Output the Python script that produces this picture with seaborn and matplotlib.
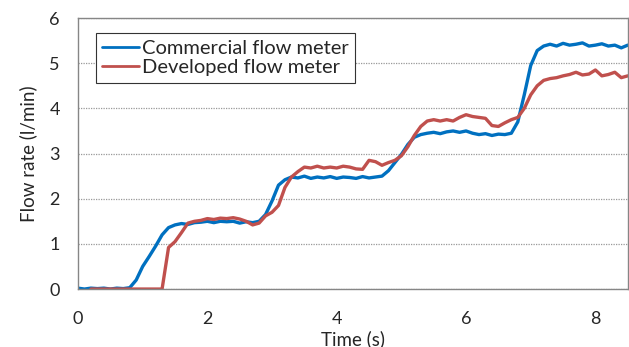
import numpy as np
import pandas as pd
import matplotlib
matplotlib.use("Agg")
import matplotlib.pyplot as plt
import seaborn as sns

time_s = np.round(np.arange(0, 86) * 0.1, 2)

commercial = [
    0.02, 0.00, 0.02, 0.01, 0.02, 0.00, 0.02, 0.01, 0.03, 0.20,
    0.50, 0.72, 0.95, 1.20, 1.36, 1.42, 1.45, 1.43, 1.47, 1.48,
    1.50, 1.47, 1.50, 1.49, 1.50, 1.46, 1.49, 1.47, 1.50, 1.65,
    1.95, 2.30, 2.42, 2.48, 2.46, 2.50, 2.45, 2.48, 2.46, 2.49,
    2.45, 2.48, 2.47, 2.45, 2.49, 2.46, 2.48, 2.50, 2.62, 2.80,
    2.98, 3.20, 3.36, 3.42, 3.45, 3.47, 3.44, 3.48, 3.50, 3.47,
    3.50, 3.45, 3.42, 3.44, 3.40, 3.43, 3.42, 3.45, 3.70, 4.30,
    4.95, 5.28, 5.38, 5.42, 5.38, 5.44, 5.40, 5.42, 5.45, 5.38,
    5.40, 5.43, 5.38, 5.40, 5.34, 5.40,
]

developed = [
    np.nan, np.nan, 0.00, 0.00, 0.00, 0.00, 0.00, 0.00, 0.00, 0.00,
    0.00, 0.00, 0.00, 0.00, 0.92, 1.05, 1.25, 1.46, 1.50, 1.52,
    1.56, 1.54, 1.57, 1.56, 1.58, 1.55, 1.50, 1.42, 1.46, 1.62,
    1.70, 1.85, 2.25, 2.48, 2.60, 2.70, 2.68, 2.72, 2.68, 2.70,
    2.68, 2.72, 2.70, 2.66, 2.65, 2.85, 2.82, 2.74, 2.80, 2.85,
    2.95, 3.15, 3.40, 3.60, 3.72, 3.75, 3.72, 3.75, 3.72, 3.80,
    3.86, 3.82, 3.80, 3.78, 3.62, 3.60, 3.68, 3.75, 3.80, 4.00,
    4.30, 4.50, 4.62, 4.66, 4.68, 4.72, 4.75, 4.80, 4.74, 4.76,
    4.85, 4.72, 4.75, 4.80, 4.68, 4.72,
]

series_names = ["Commercial flow meter", "Developed flow meter"]
colors = ["#0070C0", "#C0504D"]
x_ticks = [0, 2, 4, 6, 8]
y_ticks = [0, 1, 2, 3, 4, 5, 6]

df = pd.DataFrame({
    "Time (s)": np.concatenate([time_s, time_s]),
    "Flow": np.concatenate([commercial, developed]),
    "Series": [series_names[0]] * len(time_s) + [series_names[1]] * len(time_s),
})

sns.set_style("white")
plt.rcParams["font.family"] = ["Lato", "DejaVu Sans"]

fig = plt.figure(figsize=(6.29, 3.47), dpi=100)
ax = fig.add_axes([0.124, 0.167, 0.874, 0.781])

for name, col in zip(series_names, colors):
    sub = df[df["Series"] == name]
    sns.lineplot(data=sub, x="Time (s)", y="Flow", ax=ax, color=col,
                 linewidth=2.4, label=name, estimator=None)

ax.set_xlim(0, 8.5)
ax.set_ylim(0, 6)
ax.set_xticks(x_ticks)
ax.set_yticks(y_ticks)
ax.yaxis.grid(True, linestyle=(0, (1, 1)), color="#999999", linewidth=0.9)
ax.xaxis.grid(False)
ax.set_axisbelow(True)
for s in ax.spines.values():
    s.set_color("#868686")
    s.set_linewidth(1.0)

ax.tick_params(axis="x", direction="in", length=6, width=1, color="#333333",
               pad=16, labelsize=13)
ax.tick_params(axis="y", length=0, pad=13, labelsize=13)
ax.set_xlabel("Time (s)", fontsize=13.5, labelpad=2)
ax.set_ylabel("Flow rate (l/min)", fontsize=13.5, labelpad=9)

leg = ax.legend(loc="upper left", bbox_to_anchor=(0.032, 0.945), fontsize=14.5,
                frameon=True, fancybox=False, shadow=False, handlelength=1.85,
                handletextpad=0.12, borderpad=0.33, labelspacing=0.12,
                borderaxespad=0)
leg.get_frame().set_edgecolor("#333333")
leg.get_frame().set_linewidth(0.8)
leg.get_frame().set_alpha(1)
for ln in leg.get_lines():
    ln.set_linewidth(2.0)

fig.savefig("out.png", dpi=100)
